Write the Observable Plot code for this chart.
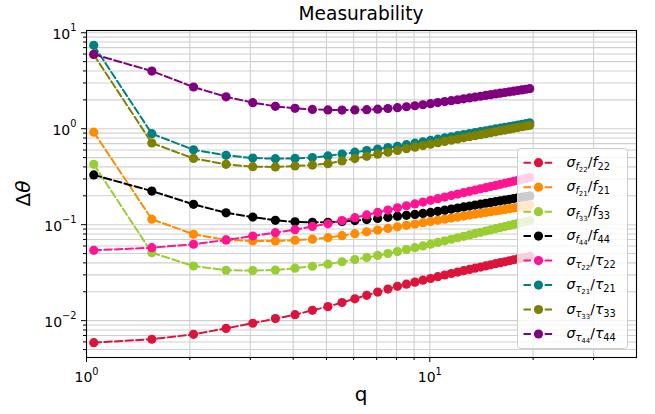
<!DOCTYPE html>
<html>
<head>
<meta charset="utf-8">
<script src="https://cdn.jsdelivr.net/npm/d3@7"></script>
<script src="https://cdn.jsdelivr.net/npm/@observablehq/plot@0.6"></script>
<style>
  body { margin: 0; background: #fff; }
  #chart svg { font-family: "DejaVu Sans", sans-serif; display: block; }
</style>
</head>
<body>
<div id="chart"></div>
<script>
// q grid (harmonic order sweep)
const q = [1.05, 1.55, 2.05, 2.55, 3.05, 3.55, 4.05, 4.55, 5.05, 5.55,
           6.05, 6.55, 7.05, 7.55, 8.05, 8.55, 9.05, 9.55, 10.05, 10.55,
           11.05, 11.55, 12.05, 12.55, 13.05, 13.55, 14.05, 14.55, 15.05, 15.55,
           16.05, 16.55, 17.05, 17.55, 18.05, 18.55, 19.05, 19.55];

// relative uncertainties, one array per quantity
const sigmaF22 = [0.0059, 0.0064, 0.0072, 0.0083, 0.0094, 0.0105, 0.01155, 0.0128, 0.0140, 0.01545,
                  0.0169, 0.01837, 0.01986, 0.02133, 0.0228, 0.0240, 0.0252, 0.0264, 0.0275, 0.0287,
                  0.0299, 0.0310, 0.0321, 0.0332, 0.0342, 0.0352, 0.0362, 0.0372, 0.0382, 0.0392,
                  0.0402, 0.0411, 0.0421, 0.0431, 0.0440, 0.0449, 0.0458, 0.0468];
const sigmaF21 = [0.92, 0.114, 0.0794, 0.0693, 0.0676, 0.0676, 0.0690, 0.0707, 0.0733, 0.0768,
                  0.0806, 0.0843, 0.0880, 0.0915, 0.0950, 0.0984, 0.1017, 0.1050, 0.1081, 0.1112,
                  0.1142, 0.1172, 0.1201, 0.1230, 0.1258, 0.1285, 0.1313, 0.1340, 0.1366, 0.1392,
                  0.1418, 0.1443, 0.1469, 0.1493, 0.1518, 0.1542, 0.1567, 0.1590];
const sigmaF33 = [0.426, 0.051, 0.0371, 0.0335, 0.0333, 0.0337, 0.0352, 0.0369, 0.0388, 0.0411,
                  0.0433, 0.0454, 0.0478, 0.0501, 0.0525, 0.0551, 0.0576, 0.0601, 0.0627, 0.0653,
                  0.0679, 0.0705, 0.0731, 0.0757, 0.0782, 0.0807, 0.0832, 0.0857, 0.0883, 0.0908,
                  0.0933, 0.0957, 0.0982, 0.1007, 0.1031, 0.1054, 0.1079, 0.1104];
const sigmaF44 = [0.33, 0.224, 0.163, 0.133, 0.120, 0.111, 0.107, 0.106, 0.106, 0.108,
                  0.1104, 0.1130, 0.1160, 0.1192, 0.1227, 0.1253, 0.1280, 0.1310, 0.1342, 0.1379,
                  0.1417, 0.1455, 0.1493, 0.1530, 0.1566, 0.1602, 0.1637, 0.1672, 0.1706, 0.1740,
                  0.1773, 0.1806, 0.1838, 0.1871, 0.1903, 0.1934, 0.1965, 0.1995];
const sigmaT22 = [0.054, 0.0576, 0.0625, 0.0693, 0.0762, 0.0826, 0.0887, 0.096, 0.1021, 0.1103,
                  0.1184, 0.1264, 0.1342, 0.1420, 0.1497, 0.1572, 0.1647, 0.1721, 0.1795, 0.1868,
                  0.1941, 0.2012, 0.2083, 0.2153, 0.2224, 0.2293, 0.2362, 0.2431, 0.2499, 0.2567,
                  0.2635, 0.2702, 0.2768, 0.2835, 0.2901, 0.2967, 0.3032, 0.3097];
const sigmaT21 = [7.39, 0.887, 0.604, 0.528, 0.495, 0.487, 0.490, 0.500, 0.520, 0.545,
                  0.569, 0.592, 0.614, 0.636, 0.656, 0.682, 0.707, 0.731, 0.755, 0.779,
                  0.801, 0.824, 0.846, 0.868, 0.890, 0.911, 0.932, 0.953, 0.974, 0.994,
                  1.014, 1.034, 1.053, 1.073, 1.092, 1.111, 1.130, 1.148];
const sigmaT33 = [5.9, 0.71, 0.49, 0.426, 0.402, 0.400, 0.409, 0.418, 0.4325, 0.461,
                  0.489, 0.516, 0.543, 0.569, 0.594, 0.619, 0.643, 0.667, 0.690, 0.714,
                  0.737, 0.759, 0.781, 0.803, 0.825, 0.846, 0.867, 0.888, 0.909, 0.929,
                  0.950, 0.969, 0.989, 1.009, 1.029, 1.048, 1.067, 1.086];
const sigmaT44 = [5.96, 3.99, 2.72, 2.15, 1.87, 1.71, 1.63, 1.59, 1.57, 1.565,
                  1.57, 1.58, 1.60, 1.625, 1.655, 1.694, 1.735, 1.778, 1.824, 1.871,
                  1.917, 1.961, 2.005, 2.048, 2.093, 2.137, 2.180, 2.223, 2.264, 2.305,
                  2.346, 2.385, 2.424, 2.463, 2.501, 2.539, 2.577, 2.614];

// legend entries: symbol and index
const names   = ["f22", "f21", "f33", "f44", "t22", "t21", "t33", "t44"];
const symbols = ["f", "f", "f", "f", "τ", "τ", "τ", "τ"];
const indices = ["22", "21", "33", "44", "22", "21", "33", "44"];
const colors  = ["#DC143C", "#FF8C00", "#9ACD32", "#000000", "#FF1493", "#008080", "#808000", "#800080"];
const valueSets = [sigmaF22, sigmaF21, sigmaF33, sigmaF44, sigmaT22, sigmaT21, sigmaT33, sigmaT44];

// tick values
const xMajor = [1, 10];
const xMinor = [2, 3, 4, 5, 6, 7, 8, 9, 20, 30];
const yMajor = [0.01, 0.1, 1, 10];
const yMinor = [0.005, 0.006, 0.007, 0.008, 0.009, 0.02, 0.03, 0.04, 0.05, 0.06, 0.07, 0.08, 0.09,
                0.2, 0.3, 0.4, 0.5, 0.6, 0.7, 0.8, 0.9, 2, 3, 4, 5, 6, 7, 8, 9];

const rows = names.flatMap((k, s) => valueSets[s].map((v, i) => ({key: k, q: q[i], v})));

// y limits: data range padded by 5% in log space
const logs = rows.map(d => Math.log10(d.v));
const lo = d3.min(logs), hi = d3.max(logs), pad = 0.05 * (hi - lo);
const yDomain = [10 ** (lo - pad), 10 ** (hi + pad)];

// "10^e" labels, turned into a base and a raised exponent after rendering
const pow10 = v => "10^" + String(Math.round(Math.log10(v))).replace("-", "−");

const W = 655, H = 414;
const mL = 86, mR = 19, mT = 30, mB = 57;
const gridStyle = {stroke: "#d0d0d0", strokeOpacity: 1, strokeWidth: 1.1};
const dash = "7.4,3.2";

const marks = [
  Plot.gridX(xMinor.concat(xMajor), gridStyle),
  Plot.gridY(yMinor.concat(yMajor), gridStyle)
];
names.forEach((k, s) => {
  const data = rows.filter(d => d.key === k);
  marks.push(Plot.line(data, {x: "q", y: "v", stroke: colors[s], strokeWidth: 2, strokeDasharray: dash}));
  marks.push(Plot.dot(data, {x: "q", y: "v", r: 4.6, fill: colors[s], stroke: "none"}));
});
marks.push(
  Plot.frame({stroke: "#000", strokeWidth: 1.1}),
  Plot.axisX(xMajor, {tickSize: 5, tickPadding: 10, tickFormat: pow10, fontSize: 14, label: null, stroke: "#000"}),
  Plot.axisX(xMinor, {tickSize: 3, tickFormat: () => "", label: null, stroke: "#000"}),
  Plot.axisY(yMajor, {tickSize: 5, tickPadding: 5, tickFormat: pow10, fontSize: 14, label: null, stroke: "#000"}),
  Plot.axisY(yMinor, {tickSize: 3, tickFormat: () => "", label: null, stroke: "#000"})
);

const chart = Plot.plot({
  width: W, height: H,
  marginLeft: mL, marginRight: mR, marginTop: mT, marginBottom: mB,
  style: {fontFamily: "DejaVu Sans, sans-serif", color: "#000", background: "#fff"},
  x: {type: "log", domain: [1, 40]},
  y: {type: "log", domain: yDomain},
  marks
});
document.getElementById("chart").appendChild(chart);

const svg = d3.select(chart);

// tick labels: base "10" with a smaller raised exponent
svg.selectAll("text").each(function () {
  const s = this.textContent;
  if (!/^10\^/.test(s)) return;
  const isY = this.closest('[aria-label^="y-axis"]') !== null;
  const exp = s.slice(3);
  const t = d3.select(this).text("");
  t.append("tspan").attr("dy", isY ? 1.5 : 0).text("10");
  t.append("tspan").attr("font-size", 9.8).attr("dy", -7.6).text(exp);
});

// title, axis labels and legend
const cx = mL + (W - mL - mR) / 2, cy = mT + (H - mT - mB) / 2;
svg.append("text").attr("x", cx).attr("y", 20).attr("text-anchor", "middle")
  .attr("font-size", 18.6).attr("fill", "#000").text("Measurability");
svg.append("text").attr("x", cx).attr("y", 401).attr("text-anchor", "middle")
  .attr("font-size", 20).attr("fill", "#000").text("q");
const yl = svg.append("text").attr("transform", `translate(30,${cy}) rotate(-90)`)
  .attr("text-anchor", "middle").attr("font-size", 20).attr("fill", "#000");
yl.append("tspan").text("Δ");
yl.append("tspan").attr("font-style", "italic").text("θ");

const lg = svg.append("g");
lg.append("rect").attr("x", 517.5).attr("y", 148.5).attr("width", 110).attr("height", 200)
  .attr("rx", 3).attr("fill", "#fff").attr("fill-opacity", 0.8).attr("stroke", "#cccccc").attr("stroke-width", 1);
names.forEach((k, s) => {
  const y = 162.7 + s * 24.47;
  lg.append("line").attr("x1", 523.5).attr("x2", 553.5).attr("y1", y).attr("y2", y)
    .attr("stroke", colors[s]).attr("stroke-width", 2).attr("stroke-dasharray", dash);
  lg.append("circle").attr("cx", 538.5).attr("cy", y).attr("r", 4.6).attr("fill", colors[s]);
  const t = lg.append("text").attr("x", 566.5).attr("y", y + 4).attr("text-anchor", "start")
    .attr("font-size", 14).attr("fill", "#000");
  t.append("tspan").attr("font-style", "italic").text("σ");
  t.append("tspan").attr("font-style", "italic").attr("font-size", 9.8).attr("dy", 3).text(symbols[s]);
  t.append("tspan").attr("font-size", 7).attr("dy", 2).text(indices[s]);
  t.append("tspan").attr("dy", -5).text("/");
  t.append("tspan").attr("font-style", "italic").text(symbols[s]);
  t.append("tspan").attr("font-size", 9.8).attr("dy", 3).text(indices[s]);
});
</script>
</body>
</html>
